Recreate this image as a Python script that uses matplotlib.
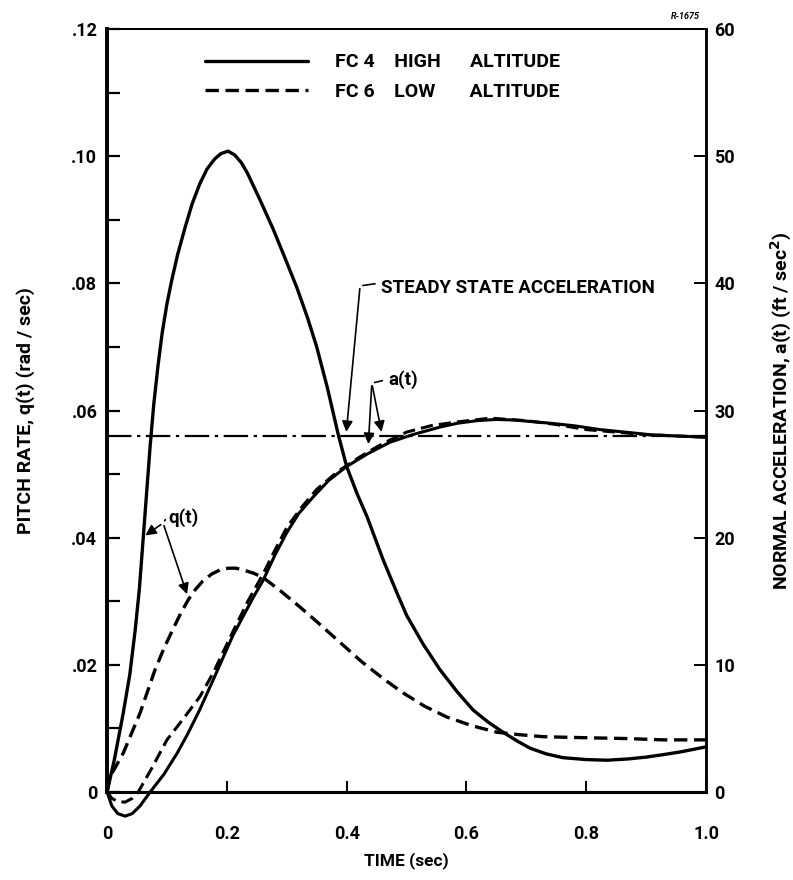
import matplotlib.pyplot as plt

plt.rcParams['font.family'] = ['Roboto', 'DejaVu Sans']
plt.rcParams['font.weight'] = 'bold'
plt.rcParams['axes.labelweight'] = 'bold'

# pitch rate q(t) (rad/sec), FC 4 high altitude
t_q4 = [0, 0.012, 0.027, 0.038, 0.047, 0.054, 0.06, 0.066, 0.072, 0.078, 0.085,
        0.092, 0.1, 0.108, 0.118, 0.13, 0.142, 0.155, 0.167, 0.18, 0.19, 0.202,
        0.213, 0.224, 0.234, 0.255, 0.277, 0.297, 0.317, 0.335, 0.35, 0.368,
        0.386, 0.40, 0.417, 0.434, 0.461, 0.484, 0.50, 0.528, 0.556, 0.585,
        0.611, 0.636, 0.661, 0.685, 0.706, 0.733, 0.761, 0.8, 0.835, 0.87,
        0.901, 0.93, 0.957, 1.0]
q4 = [0, 0.005, 0.0124, 0.0185, 0.0255, 0.032, 0.0395, 0.047, 0.0545, 0.061, 0.067,
      0.0722, 0.0768, 0.0805, 0.0846, 0.0887, 0.0925, 0.0957, 0.098, 0.0996, 0.1004, 0.1008,
      0.1002, 0.0990, 0.0974, 0.0932, 0.0886, 0.0840, 0.0793, 0.0745, 0.0700, 0.0635,
      0.0562, 0.0512, 0.0470, 0.0433, 0.0365, 0.0313, 0.0278, 0.0232, 0.0192, 0.0157,
      0.0129, 0.0110, 0.0094, 0.0080, 0.0069, 0.0060, 0.0054, 0.0051, 0.0050, 0.0052,
      0.0055, 0.0059, 0.0063, 0.0071]

# pitch rate q(t) (rad/sec), FC 6 low altitude
t_q6 = [0, 0.005, 0.027, 0.055, 0.080, 0.095, 0.111, 0.124, 0.136, 0.147, 0.16,
        0.175, 0.19, 0.203, 0.215, 0.228, 0.245, 0.261, 0.29, 0.322, 0.35, 0.375,
        0.40, 0.425, 0.46, 0.494, 0.53, 0.567, 0.61, 0.651, 0.69, 0.728, 0.77,
        0.818, 0.87, 0.928, 1.0]
q6 = [0, 0.0024, 0.0061, 0.0124, 0.0192, 0.0226, 0.0258, 0.0283, 0.0303, 0.0318, 0.0332,
      0.0343, 0.0350, 0.0352, 0.0352, 0.0349, 0.0344, 0.0337, 0.0316, 0.0291, 0.0268, 0.0247,
      0.0226, 0.0205, 0.0179, 0.0156, 0.0135, 0.0118, 0.0104, 0.0094, 0.0090, 0.0087, 0.0086,
      0.0085, 0.0084, 0.0082, 0.0082]

# normal acceleration a(t) (ft/sec^2), FC 4
t_a4 = [0, 0.008, 0.018, 0.03, 0.042, 0.055, 0.072, 0.095, 0.117, 0.135, 0.155,
        0.177, 0.21, 0.244, 0.26, 0.28, 0.30, 0.32, 0.344, 0.37, 0.40, 0.435,
        0.472, 0.51, 0.556, 0.585, 0.617, 0.65, 0.68, 0.74, 0.78, 0.823, 0.865,
        0.906, 0.95, 1.0]
a4 = [0, -1.1, -1.7, -1.9, -1.7, -1.1, 0, 1.4, 3.05, 4.6, 6.5,
      8.8, 12.3, 15.3, 16.6, 18.6, 20.4, 21.9, 23.2, 24.5, 25.6, 26.6,
      27.5, 28.1, 28.7, 29.0, 29.2, 29.3, 29.25, 29.0, 28.8, 28.5, 28.3,
      28.1, 28.0, 27.9]

# normal acceleration a(t) (ft/sec^2), FC 6
t_a6 = [0, 0.008, 0.018, 0.03, 0.042, 0.052, 0.075, 0.1, 0.128, 0.155, 0.177,
        0.21, 0.235, 0.26, 0.28, 0.30, 0.325, 0.35, 0.385, 0.422, 0.46, 0.50,
        0.54, 0.584, 0.64, 0.70, 0.75, 0.80, 0.85, 0.90, 0.95, 1.0]
a6 = [0, -0.5, -0.75, -0.8, -0.5, 0, 1.9, 4.1, 5.8, 7.5, 9.35,
      12.6, 15.0, 17.1, 19.0, 20.8, 22.4, 23.8, 25.2, 26.35, 27.4, 28.3,
      28.8, 29.1, 29.4, 29.2, 28.9, 28.5, 28.3, 28.1, 28.0, 27.9]

a_steady = 28.0

q_ticks = [0, 0.02, 0.04, 0.06, 0.08, 0.10, 0.12]
q_tick_labels = ['0', '.02', '.04', '.06', '.08', '.10', '.12']
q_minor = [0.01, 0.03, 0.05, 0.07, 0.09, 0.11]
a_ticks = [0, 10, 20, 30, 40, 50, 60]
t_ticks = [0, 0.2, 0.4, 0.6, 0.8, 1.0]
t_tick_labels = ['0', '0.2', '0.4', '0.6', '0.8', '1.0']

fig = plt.figure(figsize=(7.93, 8.8), dpi=100)
ax = fig.add_axes([0.135, 0.1, 0.7554, 0.867])
ax2 = ax.twinx()

lq4, = ax.plot(t_q4, q4, color='black', lw=2.4, solid_capstyle='round',
               label='FC 4    HIGH      ALTITUDE')
lq6, = ax.plot(t_q6, q6, color='black', lw=2.4, dashes=(4, 2),
               label='FC 6    LOW       ALTITUDE')

ax2.plot(t_a4, a4, color='black', lw=2.2, clip_on=False)
ax2.plot(t_a6, a6, color='black', lw=2.2, dashes=(4, 2), clip_on=False)
ax2.axhline(a_steady, color='black', lw=1.6, dashes=(11, 2.5, 1.5, 2.5))

ax.set_xlim(0, 1.0)
ax.set_ylim(0, 0.12)
ax2.set_ylim(0, 60)

ax.set_xticks(t_ticks)
ax.set_xticklabels(t_tick_labels)
ax.set_yticks(q_ticks)
ax.set_yticklabels(q_tick_labels)
ax.set_yticks(q_minor, minor=True)
ax2.set_yticks(a_ticks)

ax.tick_params(axis='y', which='both', direction='in', length=9, width=1.6,
               labelsize=13, pad=7)
ax.tick_params(axis='x', direction='in', length=8, width=1.4, labelsize=13, pad=24)
ax2.tick_params(axis='y', direction='in', length=9, width=1.4, labelsize=13, pad=6)

for a in (ax, ax2):
    a.spines['left'].set_linewidth(2.6)
    a.spines['bottom'].set_linewidth(2.2)
    a.spines['right'].set_linewidth(1.8)
    a.spines['top'].set_linewidth(1.4)

ax.set_xlabel('TIME (sec)', fontsize=12.5, labelpad=6)
ax.set_ylabel('PITCH RATE, q(t) (rad / sec)', fontsize=14, labelpad=26)
ax2.set_ylabel('NORMAL ACCELERATION, a(t) (ft / sec$^\\mathbf{2}$)', fontsize=14, labelpad=24)

ax.legend(handles=[lq4, lq6], loc='upper left', bbox_to_anchor=(0.163, 0.968),
          frameon=False, handlelength=5.3, handletextpad=1.4, labelspacing=0.6,
          borderpad=0, borderaxespad=0, prop={'size': 14, 'weight': 'bold'})

arrow = dict(arrowstyle='-|>', color='black', lw=1.2, mutation_scale=16)
hook = dict(arrowstyle='-', color='black', lw=1.2)

# steady state acceleration callout
ax.annotate('', xy=(0.399, 0.0562), xytext=(0.4224, 0.0796), arrowprops=arrow)
ax.annotate('', xy=(0.4224, 0.0796), xytext=(0.452, 0.0800), arrowprops=hook)
ax.text(0.457, 0.0792, 'STEADY STATE ACCELERATION', fontsize=13.5, va='center', ha='left')

# a(t) callout
ax.annotate('', xy=(0.436, 0.0543), xytext=(0.442, 0.0643), arrowprops=arrow)
ax.annotate('', xy=(0.459, 0.0562), xytext=(0.442, 0.0643), arrowprops=arrow)
ax.annotate('', xy=(0.442, 0.0643), xytext=(0.464, 0.0648), arrowprops=hook)
ax.text(0.469, 0.0648, 'a(t)', fontsize=13.5, va='center', ha='left')

# q(t) callout
ax.annotate('', xy=(0.060, 0.0401), xytext=(0.0935, 0.0423), arrowprops=arrow)
ax.annotate('', xy=(0.135, 0.0307), xytext=(0.0935, 0.0423), arrowprops=arrow)
ax.annotate('', xy=(0.0935, 0.0423), xytext=(0.100, 0.0432), arrowprops=hook)
ax.text(0.102, 0.0432, 'q(t)', fontsize=13.5, va='center', ha='left')

fig.text(0.864, 0.981, 'R-1675', fontsize=6.5, style='italic', ha='center', va='center')

fig.savefig('out.png', dpi=100)
